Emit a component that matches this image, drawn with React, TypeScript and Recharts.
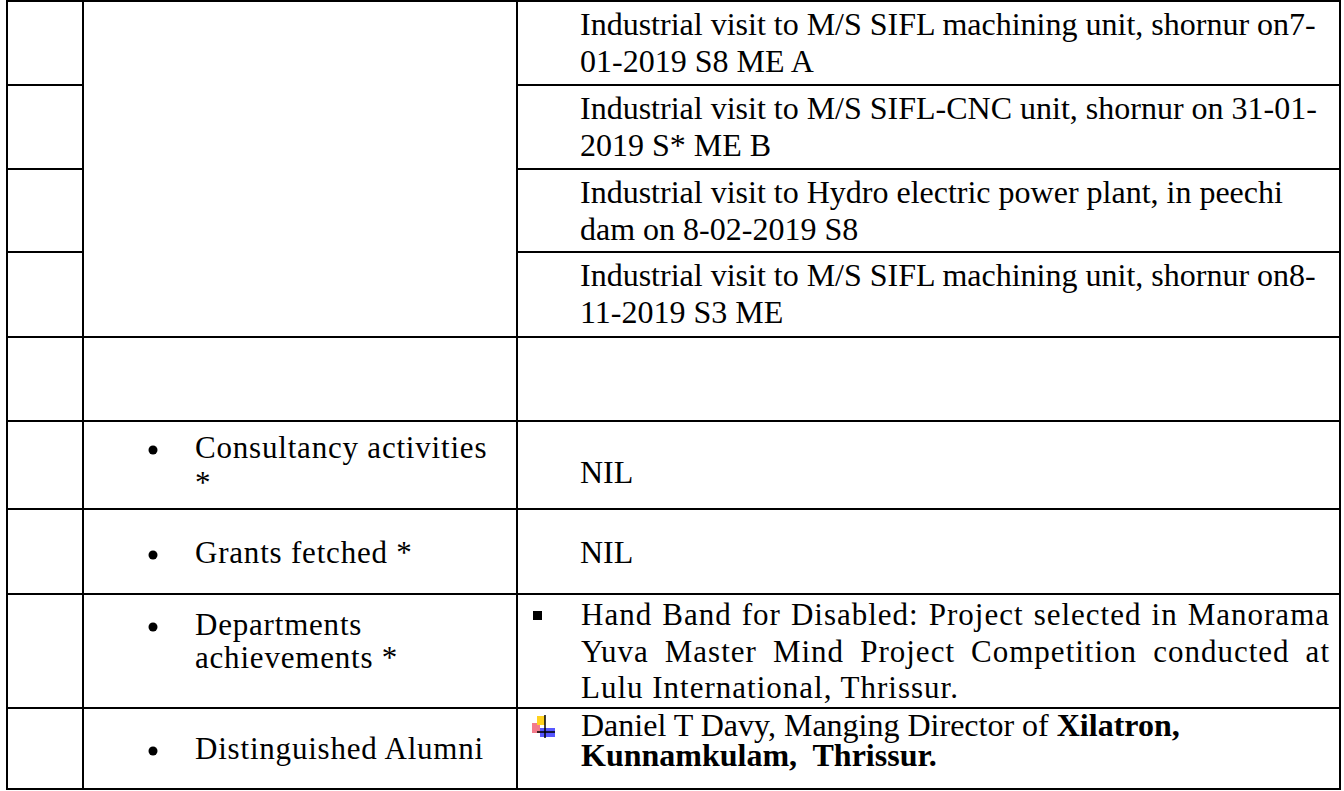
import React from "react";
import { Surface, Layer } from "recharts";

// table content
const visitItems: string[][] = [
  ["Industrial visit to M/S SIFL machining unit, shornur on7-", "01-2019 S8 ME A"],
  ["Industrial visit to M/S SIFL-CNC unit, shornur on 31-01-", "2019 S* ME B"],
  ["Industrial visit to Hydro electric power plant, in peechi", "dam on 8-02-2019 S8"],
  ["Industrial visit to M/S SIFL machining unit, shornur on8-", "11-2019 S3 ME"],
];
const sectionLabels: string[][] = [
  ["Consultancy activities", "*"],
  ["Grants fetched *"],
  ["Departments", "achievements *"],
  ["Distinguished Alumni"],
];
const nilValues = ["NIL", "NIL"];
const achievementLines = [
  "Hand Band for Disabled: Project selected in Manorama",
  "Yuva Master Mind Project Competition conducted at",
  "Lulu International, Thrissur.",
];
const alumniName = "Daniel T Davy, Manging Director of ";
const alumniCompany = "Xilatron,";
const alumniPlace = "Kunnamkulam,  Thrissur.";

// layout
const W = 1344;
const H = 791;
const COLS = [7, 83, 517, 1340];
const ROWS = [1, 85, 169, 252, 337, 421, 509, 594, 708, 789];
const TIMES = "'Liberation Serif', 'Times New Roman', serif";
const CAMBRIA = "'Liberation Serif', serif";
const labelBase = [[458, 493], [563], [635, 668], [759]];
const nilBase = [483, 563];
const achBase = [625, 662, 698];

function Grid() {
  const segs: JSX.Element[] = [];
  COLS.forEach((x, i) =>
    segs.push(<line key={"v" + i} x1={x} x2={x} y1={0} y2={790} stroke="#000" strokeWidth={2} />)
  );
  ROWS.forEach((y, i) => {
    // the second column is one merged cell over the first four rows
    if (i > 0 && i < 4) {
      segs.push(<line key={"ha" + i} x1={COLS[0]} x2={COLS[1]} y1={y} y2={y} stroke="#000" strokeWidth={2} />);
      segs.push(<line key={"hb" + i} x1={COLS[2]} x2={COLS[3] + 1} y1={y} y2={y} stroke="#000" strokeWidth={2} />);
    } else {
      segs.push(<line key={"h" + i} x1={COLS[0] - 1} x2={COLS[3] + 1} y1={y} y2={y} stroke="#000" strokeWidth={2} />);
    }
  });
  return <Layer>{segs}</Layer>;
}

export default function App() {
  return (
    <div style={{ position: "absolute", left: 0, top: 0, width: W, height: H, background: "#fff" }}>
      <Surface width={W} height={H}>
        <Grid />
        <Layer>
          {visitItems.map((lines, r) =>
            lines.map((t, j) => (
              <text key={`v${r}-${j}`} x={580} y={ROWS[r] + 34 + j * 37} fontFamily={TIMES} fontSize={32} fill="#000">
                {t}
              </text>
            ))
          )}
          {nilValues.map((t, i) => (
            <text key={"nil" + i} x={580} y={nilBase[i]} fontFamily={TIMES} fontSize={32} fill="#000">
              {t}
            </text>
          ))}
        </Layer>
        <Layer>
          {sectionLabels.map((lines, i) => (
            <g key={"lab" + i}>
              <circle cx={153} cy={labelBase[i][0] - 8} r={4.5} fill="#000" />
              {lines.map((t, j) => (
                <text
                  key={j}
                  x={195}
                  y={labelBase[i][j]}
                  fontFamily={CAMBRIA}
                  fontSize={31}
                  letterSpacing={0.8}
                  fill="#000"
                >
                  {t}
                </text>
              ))}
            </g>
          ))}
        </Layer>
        <Layer>
          <rect x={533} y={611} width={9} height={9} fill="#000" />
          <rect x={532} y={723} width={8} height={10} fill="#f05a6e" opacity={0.8} />
          <rect x={537} y={716} width={8} height={9} fill="#ffd21f" />
          <rect x={540} y={728} width={15} height={9} fill="#3a3aff" opacity={0.85} />
          <line x1={545} x2={545} y1={715} y2={738} stroke="#000" strokeWidth={1.5} />
          <line x1={537} x2={555} y1={732} y2={732} stroke="#000" strokeWidth={1.5} />
          <text fontFamily={TIMES} fontSize={32} fill="#000" style={{ whiteSpace: "pre" }}>
            <tspan x={581} y={736}>
              {alumniName}
              <tspan fontWeight="bold">{alumniCompany}</tspan>
            </tspan>
            <tspan x={581} y={766} fontWeight="bold">
              {alumniPlace}
            </tspan>
          </text>
        </Layer>
      </Surface>
      {achievementLines.map((t, i) => (
        <div
          key={"ach" + i}
          style={{
            position: "absolute",
            left: 581,
            top: achBase[i] - 26,
            width: 749,
            fontFamily: CAMBRIA,
            fontSize: 31,
            lineHeight: "31px",
            letterSpacing: 1,
            textAlign: "justify",
            textAlignLast: i < 2 ? "justify" : "left",
            whiteSpace: "nowrap",
            color: "#000",
          }}
        >
          {t}
        </div>
      ))}
    </div>
  );
}
